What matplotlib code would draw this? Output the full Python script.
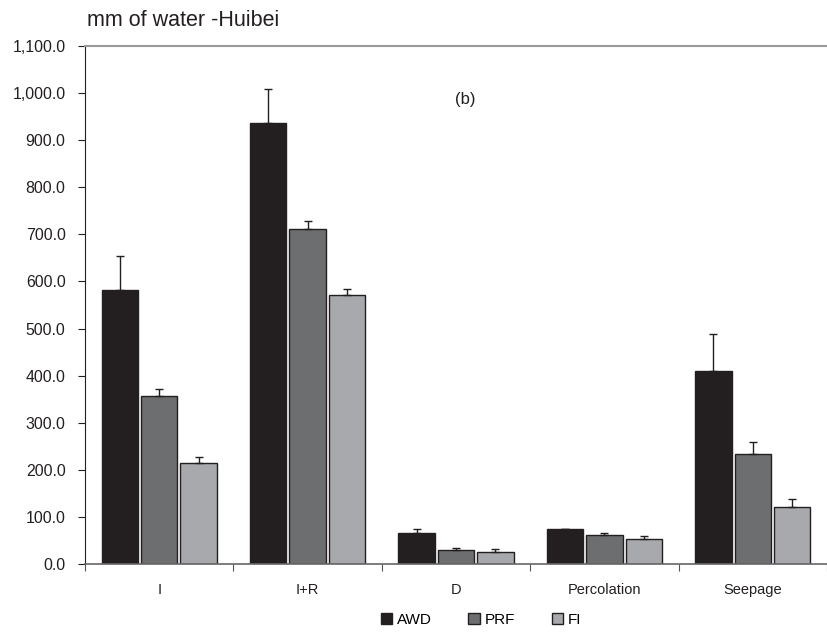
import matplotlib
matplotlib.use("Agg")
import matplotlib.pyplot as plt
from matplotlib.patches import Patch
import numpy as np

plt.rcParams['font.family'] = ['Liberation Sans', 'DejaVu Sans']

categories = ["I", "I+R", "D", "Percolation", "Seepage"]
series = ["AWD", "PRF", "FI"]
awd = [581, 937, 65, 74, 409]
prf = [357, 712, 30, 62, 234]
fi = [215, 571, 26, 53, 121]
awd_err = [72, 71, 9, 1, 79]
prf_err = [15, 16, 5, 3, 25]
fi_err = [12, 13, 6, 6, 16]
yticks = [0, 100, 200, 300, 400, 500, 600, 700, 800, 900, 1000, 1100]

colors = ["#231f20", "#6d6e70", "#a7a9ac"]

fig = plt.figure(figsize=(8.27, 6.33), dpi=100)
ax = fig.add_axes([85/827, 1-564/633, 1-85/827, (564-46)/633])

x = np.arange(len(categories))
step = 0.265
width = 0.245
data = [awd, prf, fi]
errs = [awd_err, prf_err, fi_err]
for i, (vals, e, c) in enumerate(zip(data, errs, colors)):
    pos = x + (i - 1) * step
    ax.bar(pos, vals, width=width, color=c, edgecolor="#231f20", linewidth=1.0, zorder=2)
    ax.errorbar(pos, vals, yerr=[np.zeros(len(vals)), e], fmt="none", ecolor="#231f20",
                elinewidth=1.0, capsize=3, capthick=1.0, zorder=3)

ax.set_ylim(0, 1100)
ax.set_xlim(-0.5, -0.5 + 742/150)
ax.set_yticks(yticks)
ax.set_yticklabels([f"{v:,.1f}" for v in yticks], fontsize=11.4, color="#231f20")
ax.set_xticks(np.arange(len(categories) + 1) - 0.5)
ax.set_xticklabels([])
ax.set_xticks(x, minor=True)
ax.set_xticklabels(categories, minor=True, fontsize=10.5, color="#231f20")
ax.tick_params(axis="x", which="minor", length=0, pad=14)
ax.tick_params(axis="x", which="major", length=5, direction="out", color="#555555")
ax.tick_params(axis="y", length=5, direction="out", pad=9, color="#231f20")

ax.spines["right"].set_visible(False)
ax.spines["top"].set_color("#999999")
ax.spines["top"].set_linewidth(1.5)
ax.spines["left"].set_color("#231f20")
ax.spines["bottom"].set_color("#666666")
ax.spines["bottom"].set_linewidth(1.2)

ax.text(0.513, 0.896, "(b)", transform=ax.transAxes, ha="center", va="center", fontsize=12, color="#231f20")
fig.text(87/827, 1-20/633, "mm of water -Huibei", ha="left", va="center", fontsize=15.5, color="#231f20")

handles = [Patch(facecolor=c, edgecolor="#231f20", linewidth=1.0) for c in colors]
fig.legend(handles, series, loc="center", bbox_to_anchor=(481/827, 1-620/633), ncol=3, frameon=False,
           fontsize=11, handlelength=0.75, handleheight=0.75, handletextpad=0.3, columnspacing=2.4)

fig.savefig("out.png", dpi=100)
